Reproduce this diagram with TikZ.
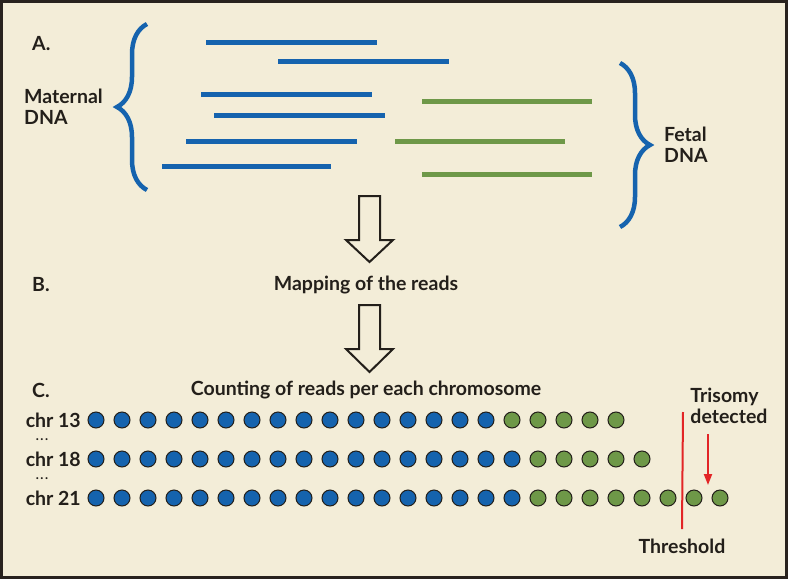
\documentclass[tikz,border=0pt]{standalone}
\usepackage{fontspec}
\setmainfont{Lato}
\usetikzlibrary{arrows.meta,decorations.pathreplacing}

\definecolor{paper}{RGB}{243,237,216}
\definecolor{frame}{RGB}{40,34,30}
\definecolor{ink}{RGB}{35,31,26}
\definecolor{matblue}{RGB}{21,99,174}
\definecolor{fetgreen}{RGB}{110,152,72}
\definecolor{alert}{RGB}{226,37,38}

\tikzset{
  lbl/.style={text=ink, font=\bfseries\fontsize{19.5}{21}\selectfont, inner sep=0pt, align=left},
  gaplbl/.style={text=ink, font=\bfseries\fontsize{13}{13}\selectfont, inner sep=0pt},
  maternal/.style={matblue, line width=5pt},
  fetal/.style={fetgreen, line width=5pt},
  bracket/.style={matblue, line width=4.5pt, decorate, decoration={brace, amplitude=30pt}},
  hollow/.style={ink, line width=2pt, fill=paper, line join=miter},
  bdot/.style={circle, draw=ink, line width=1pt, fill=matblue, minimum size=16pt, inner sep=0pt},
  gdot/.style={circle, draw=ink, line width=1pt, fill=fetgreen, minimum size=16pt, inner sep=0pt}
}

\begin{document}
\begin{tikzpicture}[x=1pt,y=-1pt]
\useasboundingbox (0,0) rectangle (788,579);
\draw[frame, line width=3pt, fill=paper] (1.5,1.5) rectangle (786.5,577.5);

% A. reads
\node[lbl, anchor=west] (A) at (32,44) {A.};
\node[lbl, anchor=west] (maternal) at (24,107) {Maternal\\DNA};
\node[lbl, anchor=west] (fetal) at (664,145) {Fetal\\DNA};

\draw[bracket] (147,190) -- (147,24);
\draw[bracket] (620,63) -- (620,227);

\draw[maternal] (206,42) -- (377,42);
\draw[maternal] (278,61) -- (449,61);
\draw[maternal] (201,94) -- (372,94);
\draw[maternal] (214,115) -- (385,115);
\draw[maternal] (186,141) -- (357,141);
\draw[maternal] (162,166) -- (331,166);

\draw[fetal] (422,101) -- (592,101);
\draw[fetal] (395,141) -- (565,141);
\draw[fetal] (422,174) -- (592,174);

% B. mapping
\draw[hollow] (359,196) -- (380,196) -- (380,240) -- (393,240) -- (369.5,262)
  -- (346,240) -- (359,240) -- cycle;

\node[lbl, anchor=west] (B) at (32,285) {B.};
\node[lbl] (mapping) at (366,285) {Mapping of the reads};

\draw[hollow] (359,305) -- (380,305) -- (380,349) -- (393,349) -- (369.5,372)
  -- (346,349) -- (359,349) -- cycle;

% C. counting
\node[lbl, anchor=west] (C) at (32,390) {C.};
\node[lbl] (counting) at (366,390) {Counting of reads per each chromosome};

\foreach \y/\n/\nb/\nt in {420/13/16/21, 459/18/17/22, 498/21/17/25}{
  \node[lbl, anchor=east] (chr\n) at (81,\y) {chr \n};
  \foreach \i in {1,...,\nt}{
    \ifnum\i>\nb
      \node[gdot] (d\n-\i) at ({96+26*(\i-1)},\y) {};
    \else
      \node[bdot] (d\n-\i) at ({96+26*(\i-1)},\y) {};
    \fi
  }
}
\node[gaplbl] (gap1) at (42,440) {.\kern1.5pt.\kern1.5pt.};
\node[gaplbl] (gap2) at (42,479) {.\kern1.5pt.\kern1.5pt.};

\node[lbl] (threshold) at (682,546) {Threshold};
\coordinate (thr) at (683,412);
\draw[alert, line width=2pt] (thr) -- (threshold.north |- 0,529);

\node[lbl] (trisomy) at (729,406) {Trisomy\\detected};
\coordinate (hit) at (708,485);
\draw[alert, line width=2pt, -{Triangle[length=11pt,width=8pt]}] (trisomy.south -| hit) ++(0,10) -- (hit);
\end{tikzpicture}
\end{document}
